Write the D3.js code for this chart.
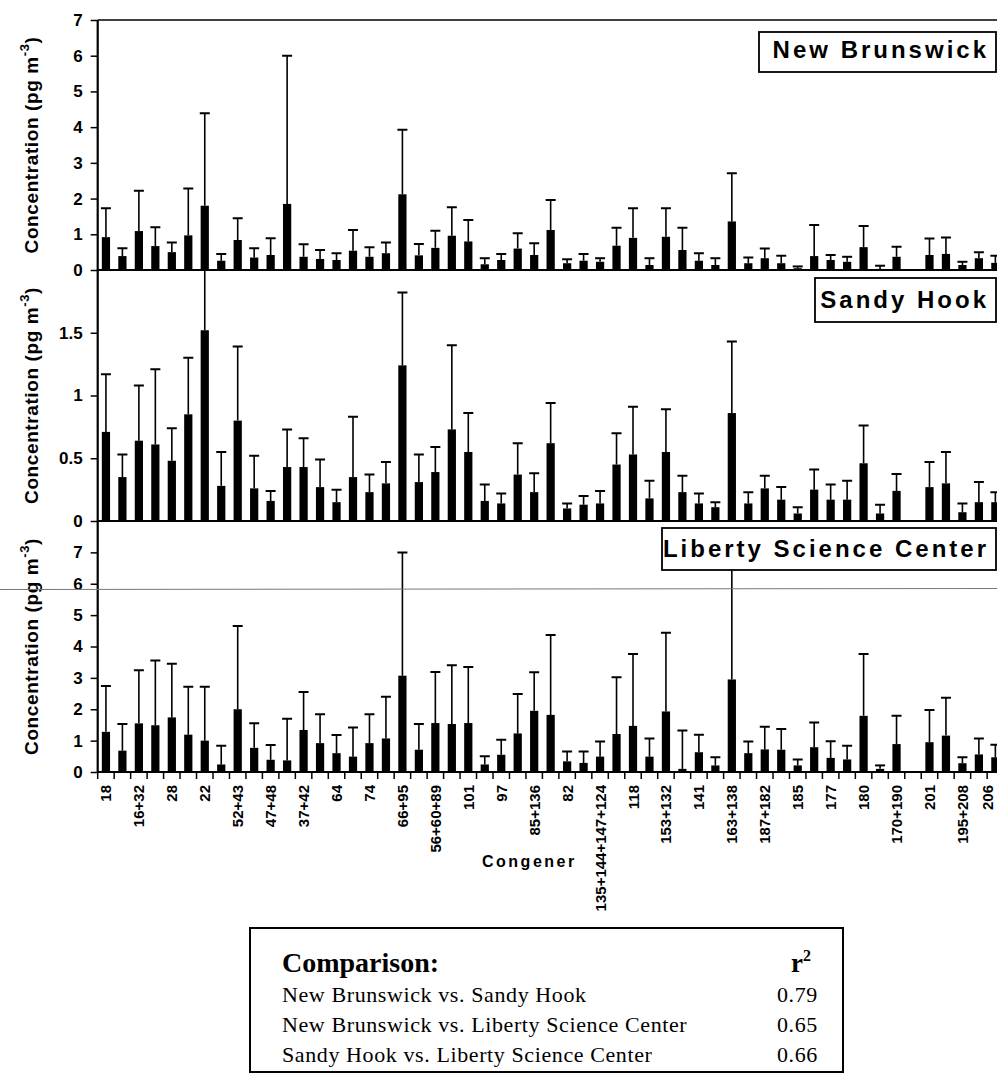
<!DOCTYPE html>
<html><head><meta charset="utf-8">
<script src="https://cdn.jsdelivr.net/npm/d3@7"></script>
<style>body{margin:0;background:#fff}svg{display:block}</style>
</head><body>
<svg id="c" width="997" height="1074"></svg>
<script>
// ---- data ----
const tickLabels = ["18","16+32","28","22","52+43","47+48","37+42","64","74","66+95","56+60+89","101","97","85+136","82","135+144+147+124","118","153+132","141","163+138","187+182","185","177","180","170+190","201","195+208","206"];

const nbMean  = [0.92,0.39,1.09,0.67,0.50,0.97,1.80,0.26,0.84,0.35,0.42,1.85,0.37,0.31,0.28,0.54,0.37,0.47,2.12,0.41,0.62,0.96,0.80,0.16,0.28,0.60,0.42,1.12,0.19,0.26,0.23,0.68,0.90,0.14,0.93,0.56,0.26,0.14,1.36,0.19,0.33,0.19,0.05,0.39,0.28,0.23,0.64,0.03,0.37,null,0.42,0.45,0.14,0.33,0.20];
const nbUpper = [1.73,0.61,2.22,1.20,0.77,2.28,4.39,0.45,1.45,0.61,0.89,6.00,0.72,0.56,0.47,1.12,0.64,0.77,3.93,0.73,1.10,1.76,1.40,0.33,0.45,1.03,0.75,1.96,0.30,0.45,0.33,1.18,1.73,0.33,1.73,1.18,0.47,0.33,2.71,0.35,0.60,0.40,0.10,1.26,0.42,0.37,1.23,0.12,0.65,null,0.88,0.91,0.23,0.50,0.40];

const shMean  = [0.71,0.35,0.64,0.61,0.48,0.85,1.52,0.28,0.80,0.26,0.16,0.43,0.43,0.27,0.15,0.35,0.23,0.30,1.24,0.31,0.39,0.73,0.55,0.16,0.14,0.37,0.23,0.62,0.10,0.13,0.14,0.45,0.53,0.18,0.55,0.23,0.14,0.11,0.86,0.14,0.26,0.17,0.06,0.25,0.17,0.17,0.46,0.06,0.24,null,0.27,0.30,0.07,0.15,0.15];
const shUpper = [1.17,0.53,1.08,1.21,0.74,1.30,2.10,0.55,1.39,0.52,0.24,0.73,0.66,0.49,0.25,0.83,0.37,0.47,1.82,0.53,0.59,1.40,0.86,0.29,0.22,0.62,0.38,0.94,0.14,0.20,0.24,0.70,0.91,0.32,0.89,0.36,0.22,0.15,1.43,0.23,0.36,0.27,0.11,0.41,0.29,0.32,0.76,0.13,0.375,null,0.47,0.55,0.14,0.31,0.23];

const lscMean  = [1.28,0.68,1.55,1.49,1.74,1.19,1.00,0.24,2.00,0.77,0.39,0.37,1.34,0.92,0.60,0.49,0.92,1.07,3.07,0.71,1.56,1.53,1.56,0.24,0.55,1.23,1.95,1.82,0.34,0.29,0.49,1.21,1.47,0.49,1.93,0.10,0.63,0.21,2.95,0.60,0.72,0.71,0.21,0.79,0.45,0.40,1.79,0.10,0.89,null,0.95,1.16,0.28,0.56,0.47];
const lscUpper = [2.74,1.53,3.24,3.55,3.45,2.72,2.72,0.84,4.65,1.55,0.86,1.70,2.55,1.84,1.18,1.42,1.84,2.40,7.00,1.53,3.19,3.40,3.35,0.50,1.03,2.49,3.18,4.37,0.65,0.65,0.97,3.02,3.76,1.07,4.44,1.32,1.19,0.47,7.50,0.97,1.44,1.37,0.40,1.58,0.98,0.84,3.76,0.21,1.79,null,1.98,2.37,0.47,1.07,0.87];

const nbTicks  = [0,1,2,3,4,5,6,7];
const shTicks  = [0,0.5,1,1.5];
const lscTicks = [0,1,2,3,4,5,6,7];

const siteNames = ["New Brunswick","Sandy Hook","Liberty Science Center"];
const comparisons = ["New Brunswick vs. Sandy Hook","New Brunswick vs. Liberty Science Center","Sandy Hook vs. Liberty Science Center"];
const rSquared = ["0.79","0.65","0.66"];

// ---- layout ----
const svg = d3.select("#c");
const AX = 97.7, RIGHT = 1003.6;
const nBars = nbMean.length;
const x = d3.scaleBand().domain(d3.range(nBars)).range([AX, RIGHT]).paddingInner(0.5).paddingOuter(0.25);
const step = x.step();
const cx = i => x(i) + x.bandwidth()/2;
const SANS = "'Liberation Sans', Arial, sans-serif";
const SERIF = "'Liberation Serif', 'Times New Roman', serif";

const panels = [
  {mean: nbMean,  upper: nbUpper,  ticks: nbTicks,  max: 7, top: 20,  bottom: 270, box: {x0: 759, y0: 32,  y1: 72,  base: 58}},
  {mean: shMean,  upper: shUpper,  ticks: shTicks,  max: 2, top: 270, bottom: 521, box: {x0: 815, y0: 278, y1: 322, base: 308}},
  {mean: lscMean, upper: lscUpper, ticks: lscTicks, max: 8, top: 521, bottom: 772, box: {x0: 662, y0: 528, y1: 570, base: 557}}
];

const defs = svg.append("defs");

panels.forEach((p, k) => {
  const y = d3.scaleLinear().domain([0, p.max]).range([p.bottom, p.top]);
  const clipId = "clip" + k;
  defs.append("clipPath").attr("id", clipId).append("rect")
    .attr("x", AX).attr("y", p.top).attr("width", 997 - AX).attr("height", p.bottom - p.top);
  const g = svg.append("g").attr("clip-path", `url(#${clipId})`);
  const idx = d3.range(nBars).filter(i => p.mean[i] != null);

  // error bars (upper only)
  g.selectAll("line.err").data(idx).join("line")
    .attr("x1", cx).attr("x2", cx)
    .attr("y1", i => y(p.mean[i])).attr("y2", i => y(p.upper[i]))
    .attr("stroke", "#000").attr("stroke-width", 1.6);
  g.selectAll("line.cap").data(idx).join("line")
    .attr("x1", i => cx(i) - 5).attr("x2", i => cx(i) + 5)
    .attr("y1", i => y(p.upper[i])).attr("y2", i => y(p.upper[i]))
    .attr("stroke", "#000").attr("stroke-width", 2);
  // bars
  g.selectAll("rect.bar").data(idx).join("rect")
    .attr("x", i => x(i)).attr("width", x.bandwidth())
    .attr("y", i => y(p.mean[i])).attr("height", i => y(0) - y(p.mean[i]))
    .attr("fill", "#000");

  // y axis
  const ya = svg.append("g").attr("transform", `translate(${AX},0)`)
    .call(d3.axisLeft(y).tickValues(p.ticks).tickSize(7).tickPadding(8).tickFormat(d => String(d)));
  ya.select(".domain").remove();
  ya.selectAll(".tick line").attr("stroke", "#000").attr("stroke-width", 1.5);
  ya.selectAll(".tick text").attr("font-family", SANS).attr("font-weight", "bold")
    .attr("font-size", 17).attr("fill", "#000");

  // baseline of panel
  svg.append("line").attr("x1", AX).attr("x2", 997).attr("y1", p.bottom).attr("y2", p.bottom)
    .attr("stroke", "#000").attr("stroke-width", 2);

  // y-axis title
  const t = svg.append("text")
    .attr("transform", `translate(38,${(p.top + p.bottom) / 2}) rotate(-90)`)
    .attr("text-anchor", "middle").attr("font-family", SANS).attr("font-weight", "bold")
    .attr("font-size", 19).attr("letter-spacing", 0.6).attr("fill", "#000");
  t.append("tspan").text("Concentration (pg m");
  t.append("tspan").attr("dy", -9).attr("font-size", 13).text("-3");
  t.append("tspan").attr("dy", 9).text(")");
});

// top frame line
svg.append("line").attr("x1", AX).attr("x2", 997).attr("y1", 20).attr("y2", 20)
  .attr("stroke", "#000").attr("stroke-width", 1.5);
// left axis line
svg.append("line").attr("x1", AX).attr("x2", AX).attr("y1", 20).attr("y2", 772)
  .attr("stroke", "#000").attr("stroke-width", 2.2);

// scan artifact line
svg.append("line").attr("x1", 0).attr("x2", 997).attr("y1", 589.5).attr("y2", 588.5)
  .attr("stroke", "#777").attr("stroke-width", 1);

// site label boxes
panels.forEach((p, k) => {
  const b = p.box;
  svg.append("rect").attr("x", b.x0).attr("y", b.y0).attr("width", 996 - b.x0).attr("height", b.y1 - b.y0)
    .attr("fill", "#fff").attr("stroke", "#000").attr("stroke-width", 1.8);
  svg.append("text").attr("x", 989).attr("y", b.base).attr("text-anchor", "end")
    .attr("font-family", SANS).attr("font-weight", "bold").attr("font-size", 24)
    .attr("letter-spacing", 3).attr("fill", "#000").text(siteNames[k]);
});

// bottom x ticks at band boundaries
const tickXs = d3.range(nBars + 1).map(i => AX + step * i);
svg.append("g").selectAll("line").data(tickXs).join("line")
  .attr("x1", d => d).attr("x2", d => d).attr("y1", 772).attr("y2", 779)
  .attr("stroke", "#000").attr("stroke-width", 1.5);

// x labels (every other bar)
svg.append("g").selectAll("text").data(tickLabels).join("text")
  .attr("transform", (d, j) => `translate(${Math.min(cx(j * 2) + 5.5, 993)},785) rotate(-90)`)
  .attr("text-anchor", "end")
  .attr("font-family", SANS).attr("font-weight", "bold").attr("font-size", 15).attr("fill", "#000")
  .text(d => d);

// x title
svg.append("text").attr("x", 482).attr("y", 867)
  .attr("font-family", SANS).attr("font-weight", "bold").attr("font-size", 16)
  .attr("letter-spacing", 2.5).attr("fill", "#000").text("Congener");

// comparison box
svg.append("rect").attr("x", 250).attr("y", 928).attr("width", 593).attr("height", 144)
  .attr("fill", "none").attr("stroke", "#000").attr("stroke-width", 2);
svg.append("text").attr("x", 282).attr("y", 972)
  .attr("font-family", SERIF).attr("font-weight", "bold").attr("font-size", 28).attr("fill", "#000")
  .text("Comparison:");
const rt = svg.append("text").attr("x", 791).attr("y", 972)
  .attr("font-family", SERIF).attr("font-weight", "bold").attr("font-size", 27).attr("fill", "#000");
rt.append("tspan").text("r");
rt.append("tspan").attr("dy", -11).attr("font-size", 16).text("2");

svg.append("g").selectAll("text").data(comparisons).join("text")
  .attr("x", 282).attr("y", (d, i) => 1002 + i * 30)
  .attr("font-family", SERIF).attr("font-size", 22).attr("letter-spacing", 0.6).attr("fill", "#000")
  .text(d => d);
svg.append("g").selectAll("text").data(rSquared).join("text")
  .attr("x", 777).attr("y", (d, i) => 1002 + i * 30)
  .attr("font-family", SERIF).attr("font-size", 22).attr("letter-spacing", 0.6).attr("fill", "#000")
  .text(d => d);
</script>
</body></html>
